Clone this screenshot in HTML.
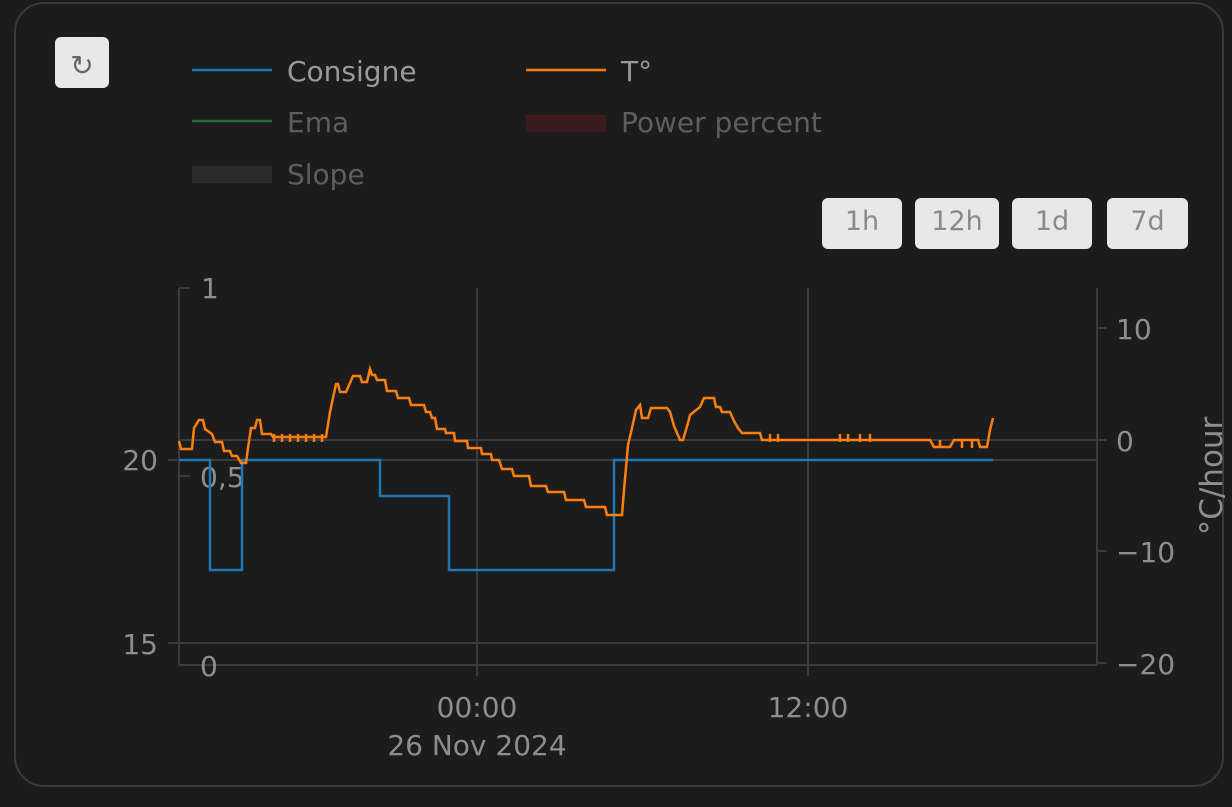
<!DOCTYPE html>
<html><head><meta charset="utf-8"><style>
html,body{margin:0;padding:0;background:#1c1c1c;width:1232px;height:807px;overflow:hidden;font-family:"Liberation Sans","DejaVu Sans",sans-serif}
.card{position:absolute;left:14px;top:2px;width:1210px;height:785px;border:2px solid #3a3a3a;border-radius:30px;box-sizing:border-box;background:#1c1c1c}
.btn{position:absolute;background:#e8e8e8;border-radius:6px;color:#8a8a8a;font-size:27px;text-align:center;font-family:"DejaVu Sans",sans-serif}
</style></head><body>
<div class="card"></div>
<div class="btn" style="left:55px;top:37px;width:54px;height:51px;line-height:58px;font-size:28px;color:#666">↻</div>
<div class="btn" style="left:822px;top:198px;width:80px;height:51px;line-height:48px">1h</div>
<div class="btn" style="left:915px;top:198px;width:84px;height:51px;line-height:48px">12h</div>
<div class="btn" style="left:1012px;top:198px;width:80px;height:51px;line-height:48px">1d</div>
<div class="btn" style="left:1107px;top:198px;width:81px;height:51px;line-height:48px">7d</div>
<svg width="1232" height="807" style="position:absolute;left:0;top:0" font-family="DejaVu Sans, sans-serif">
<g font-size="28">
<line x1="192" y1="70" x2="272" y2="70" stroke="#1f77b4" stroke-width="2.5"/>
<text x="287" y="81" fill="#9a9a9a">Consigne</text>
<line x1="526" y1="70" x2="606" y2="70" stroke="#ff7f0e" stroke-width="2.5"/>
<text x="621" y="81" fill="#9a9a9a">T°</text>
<line x1="192" y1="121" x2="272" y2="121" stroke="#1e6b2a" stroke-width="2.5"/>
<text x="287" y="132" fill="#5e5e5e">Ema</text>
<rect x="526" y="115" width="80" height="17" fill="#3a1a1a"/><rect x="526" y="115" width="80" height="2" fill="#4a1c1c"/>
<text x="621" y="132" fill="#5e5e5e">Power percent</text>
<rect x="192" y="166" width="80" height="17" fill="#2b2b2b"/>
<text x="287" y="184" fill="#5e5e5e">Slope</text>
</g>
<g stroke="#3c3c3c" stroke-width="2">
<line x1="477" y1="288" x2="477" y2="665"/><line x1="808" y1="288" x2="808" y2="665"/>
<line x1="179" y1="440" x2="1097" y2="440"/><line x1="179" y1="460" x2="1097" y2="460"/><line x1="179" y1="643" x2="1097" y2="643"/>
<line x1="179" y1="288" x2="179" y2="665"/><line x1="1097" y1="288" x2="1097" y2="665"/>
<line x1="179" y1="665" x2="1097" y2="665"/>
<line x1="179" y1="288" x2="190" y2="288"/><line x1="179" y1="476" x2="190" y2="476"/><line x1="179" y1="665" x2="190" y2="665"/>
<line x1="1097" y1="328" x2="1107" y2="328"/><line x1="1097" y1="440" x2="1107" y2="440"/><line x1="1097" y1="551" x2="1107" y2="551"/><line x1="1097" y1="663" x2="1107" y2="663"/>
<line x1="168" y1="460" x2="179" y2="460"/><line x1="168" y1="643" x2="179" y2="643"/>
<line x1="477" y1="665" x2="477" y2="676"/><line x1="808" y1="665" x2="808" y2="676"/>
</g>
<g fill="#8e8e8e" font-size="28">
<text x="201" y="298">1</text><text x="200" y="487">0,5</text><text x="200" y="676">0</text>
<text x="158" y="470" text-anchor="end">20</text><text x="158" y="654" text-anchor="end">15</text>
<text x="1116" y="339">10</text><text x="1116" y="451">0</text><text x="1116" y="562">−10</text><text x="1116" y="674">−20</text>
<text x="477" y="717" text-anchor="middle">00:00</text><text x="477" y="755" text-anchor="middle">26 Nov 2024</text>
<text x="808" y="717" text-anchor="middle">12:00</text>
<text transform="translate(1222,476) rotate(-90)" text-anchor="middle" font-size="31">°C/hour</text>
</g>
<polyline fill="none" stroke="#1f77b4" stroke-width="2.5" points="179,460 210,460 210,570 242,570 242,460 380,460 380,496 449,496 449,570 614,570 614,460 993,460"/>
<polyline fill="none" stroke="#ff7f0e" stroke-width="2.5" points="179,441 181,449 192,449 194,428 199,420 203,420 205,429 212,434 215,442 222,442 224,451 230,451 232,456 237,456 241,463 246,463 248,448 251,428 255,428 257,420 260,420 262,434 271,434 273,437 326,437 330,412 336,384 338,384 340,392 346,392 350,383 353,376 360,376 362,382 367,382 370,369 372,375 375,375 377,380 385,380 387,391 396,391 398,398 409,398 411,405 424,405 426,412 430,412 432,418 435,418 437,429 445,429 446,433 454,433 455,441 467,441 468,448 481,448 482,454 491,454 492,460 499,460 502,469 512,469 514,476 529,476 531,486 546,486 548,492 564,492 566,500 584,500 586,507 605,507 607,515 622,515 624,490 628,445 632,428 636,410 640,405 642,418 648,418 651,408 667,408 670,412 674,426 680,440 683,440 688,423 690,415 700,407 704,398 714,398 716,407 720,407 722,412 730,412 734,421 738,428 742,433 760,433 762,440 930,440 934,447 950,447 954,440 978,440 980,447 987,447 990,430 993,418"/>
<g stroke="#ff7f0e" stroke-width="2.5">
<line x1="274" y1="434" x2="274" y2="442"/><line x1="282" y1="434" x2="282" y2="442"/><line x1="290" y1="434" x2="290" y2="442"/><line x1="298" y1="434" x2="298" y2="442"/><line x1="306" y1="434" x2="306" y2="442"/><line x1="314" y1="434" x2="314" y2="442"/><line x1="322" y1="434" x2="322" y2="442"/>
<line x1="770" y1="434" x2="770" y2="442"/><line x1="778" y1="434" x2="778" y2="442"/><line x1="840" y1="434" x2="840" y2="442"/><line x1="848" y1="434" x2="848" y2="442"/><line x1="860" y1="434" x2="860" y2="442"/><line x1="870" y1="434" x2="870" y2="442"/><line x1="940" y1="440" x2="940" y2="448"/><line x1="962" y1="440" x2="962" y2="448"/><line x1="972" y1="440" x2="972" y2="448"/>
</g>
</svg>
</body></html>
